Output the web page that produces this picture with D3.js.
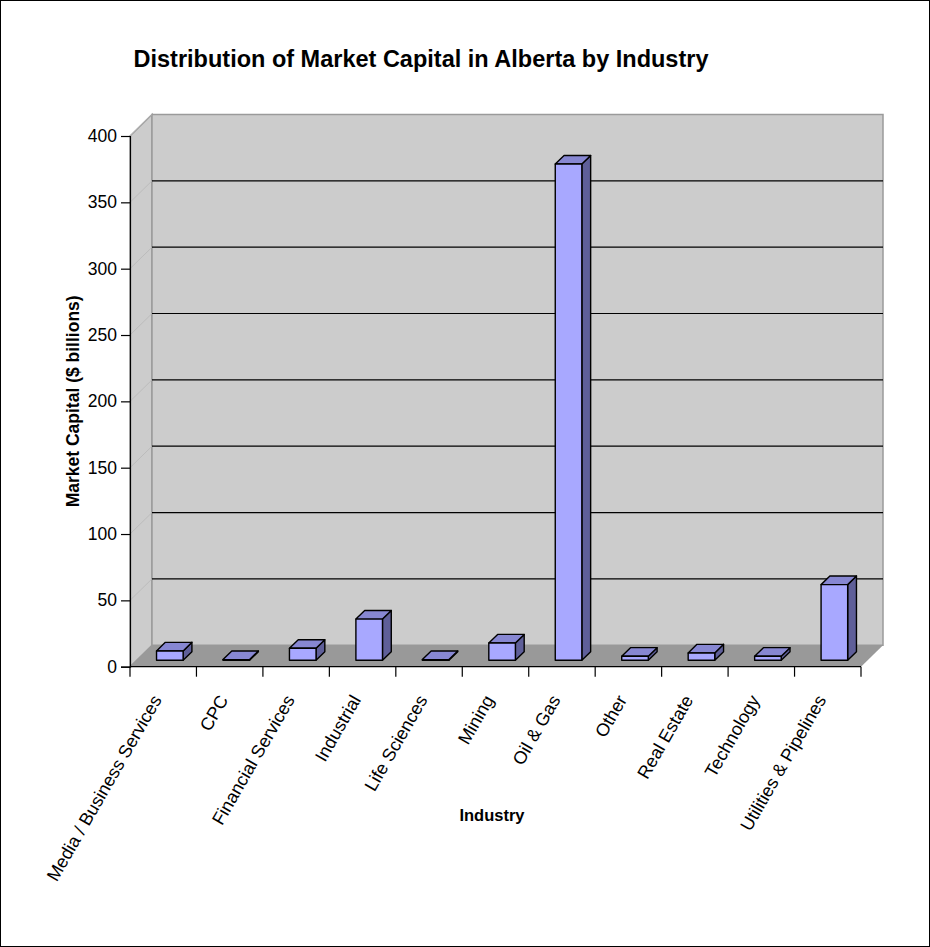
<!DOCTYPE html>
<html>
<head>
<meta charset="utf-8">
<script src="https://cdn.jsdelivr.net/npm/d3@7"></script>
<style>
  html, body { margin: 0; padding: 0; background: #fff; }
  svg { display: block; font-family: "Liberation Sans", Arial, sans-serif; }
</style>
</head>
<body>
<svg id="chart" width="930" height="947"></svg>
<script>
// Market capital by industry, $ billions
const categories = [
  "Media / Business Services", "CPC", "Financial Services", "Industrial",
  "Life Sciences", "Mining", "Oil & Gas", "Other", "Real Estate",
  "Technology", "Utilities & Pipelines"
];
const values = [7, 0.5, 9, 31, 0.5, 13, 374, 3, 5.5, 3, 57];
const yTicks = [0, 50, 100, 150, 200, 250, 300, 350, 400];

const titleText = "Distribution of Market Capital in Alberta by Industry";
const yTitle = "Market Capital ($ billions)";
const xTitle = "Industry";

(function draw() {
  const svg = d3.select("#chart");
  const W = 930, H = 947;

  // outer frame
  svg.append("rect")
    .attr("x", 0.5).attr("y", 0.5)
    .attr("width", W - 1).attr("height", H - 1)
    .attr("fill", "#fff").attr("stroke", "#000").attr("stroke-width", 1);

  // front plane of the 3-D box
  const pL = 130, pR = 861, pB = 666.7, pT = 136;
  // oblique depth offset of the back wall
  const DX = 22, DY = 21.5;

  const x = d3.scaleBand().domain(categories).range([pL, pR]).paddingInner(0).paddingOuter(0);
  const y = d3.scaleLinear().domain([0, 400]).range([pB, pT]);

  // projection of a point at depth fraction d (0 = front, 1 = back)
  const P = (px, py, d) => [px + d * DX, py - d * DY];
  const poly = pts => pts.map(p => p.join(",")).join(" ");

  const wallFill = "#cccccc", wallEdge = "#9a9a9a", floorFill = "#999999";

  // side wall
  svg.append("polygon")
    .attr("points", poly([P(pL, y(0), 0), P(pL, y(400), 0), P(pL, y(400), 1), P(pL, y(0), 1)]))
    .attr("fill", wallFill).attr("stroke", wallEdge).attr("stroke-width", 1.5);

  // back wall
  svg.append("polygon")
    .attr("points", poly([P(pL, y(0), 1), P(pL, y(400), 1), P(pR, y(400), 1), P(pR, y(0), 1)]))
    .attr("fill", wallFill).attr("stroke", wallEdge).attr("stroke-width", 1.5);

  // gridlines: diagonal on the side wall, horizontal on the back wall
  const grid = svg.append("g");
  yTicks.filter(t => t > 0).forEach(t => {
    const a = P(pL, y(t), 0), b = P(pL, y(t), 1), c = P(pR, y(t), 1);
    grid.append("line")
      .attr("x1", a[0]).attr("y1", a[1]).attr("x2", b[0]).attr("y2", b[1])
      .attr("stroke", "#b8b8b8").attr("stroke-width", 0.8);
    if (t < 400) {
      grid.append("line")
        .attr("x1", b[0]).attr("y1", b[1]).attr("x2", c[0]).attr("y2", c[1])
        .attr("stroke", "#000").attr("stroke-width", 1.2);
    }
  });

  // floor
  svg.append("polygon")
    .attr("points", poly([P(pL, y(0), 0), P(pR, y(0), 0), P(pR, y(0), 1), P(pL, y(0), 1)]))
    .attr("fill", floorFill).attr("stroke", "none");

  // bars
  const d0 = 0.3, d1 = 0.7;
  const bw = x.bandwidth() / 2.5;
  const bars = svg.append("g");
  categories.forEach((c, i) => {
    const v = values[i];
    const cx = x(c) + x.bandwidth() / 2;
    const xl = cx - bw / 2, xr = cx + bw / 2;
    const y0 = y(0), y1 = y(v);
    const g = bars.append("g")
      .attr("stroke", "#000").attr("stroke-width", 1.4).attr("stroke-linejoin", "round");
    // side face
    g.append("polygon")
      .attr("points", poly([P(xr, y1, d0), P(xr, y1, d1), P(xr, y0, d1), P(xr, y0, d0)]))
      .attr("fill", "#5f5f99");
    // top face
    g.append("polygon")
      .attr("points", poly([P(xl, y1, d0), P(xr, y1, d0), P(xr, y1, d1), P(xl, y1, d1)]))
      .attr("fill", "#8787d2");
    // front face
    g.append("polygon")
      .attr("points", poly([P(xl, y1, d0), P(xr, y1, d0), P(xr, y0, d0), P(xl, y0, d0)]))
      .attr("fill", "#a8a8ff");
  });

  // y axis
  const yAxis = d3.axisLeft(y).tickValues(yTicks).tickSize(9).tickPadding(4).tickFormat(d3.format("d"));
  const yg = svg.append("g").attr("transform", `translate(${pL},0)`).call(yAxis);
  yg.select(".domain").attr("stroke", "#000").attr("stroke-width", 1.2);
  yg.selectAll(".tick line").attr("stroke", "#000").attr("stroke-width", 1.2);
  yg.selectAll(".tick text").attr("font-size", 17.5).attr("fill", "#000")
    .attr("font-family", "'Liberation Sans', Arial, sans-serif");

  // x axis with ticks between categories
  const xg = svg.append("g");
  xg.append("line")
    .attr("x1", pL).attr("x2", pR).attr("y1", pB).attr("y2", pB)
    .attr("stroke", "#000").attr("stroke-width", 1.2);
  const bounds = categories.map(c => x(c)).concat([pR]);
  xg.selectAll("line.tk").data(bounds).join("line").attr("class", "tk")
    .attr("x1", d => d).attr("x2", d => d).attr("y1", pB).attr("y2", pB + 10)
    .attr("stroke", "#000").attr("stroke-width", 1.2);
  xg.selectAll("text.cat").data(categories).join("text").attr("class", "cat")
    .attr("transform", d => `translate(${x(d) + x.bandwidth() / 2 - 1},${pB + 33}) rotate(-60)`)
    .attr("text-anchor", "end")
    .attr("font-size", 18)
    .text(d => d);

  // titles
  svg.append("text")
    .attr("x", 421).attr("y", 67)
    .attr("text-anchor", "middle").attr("font-size", 23.5).attr("font-weight", "bold")
    .text(titleText);
  svg.append("text")
    .attr("transform", `translate(79,${(pT + pB) / 2}) rotate(-90)`)
    .attr("text-anchor", "middle").attr("font-size", 17.5).attr("font-weight", "bold")
    .text(yTitle);
  svg.append("text")
    .attr("x", 492).attr("y", 821)
    .attr("text-anchor", "middle").attr("font-size", 16.5).attr("font-weight", "bold")
    .text(xTitle);
})();
</script>
</body>
</html>
